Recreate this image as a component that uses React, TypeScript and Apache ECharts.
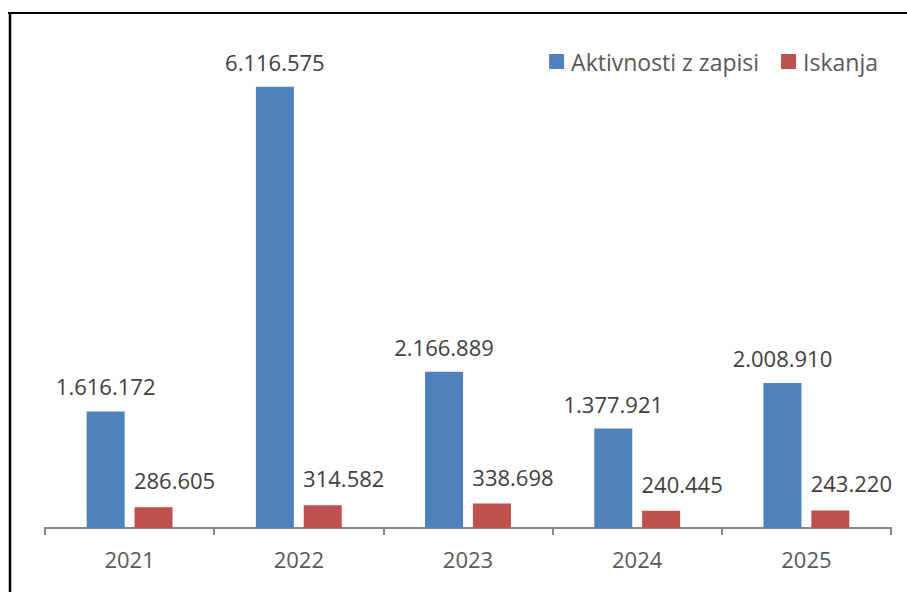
import React, { useEffect, useRef } from "react";
import * as echarts from "echarts";

const categories = ["2021", "2022", "2023", "2024", "2025"];
const aktivnosti = [1616172, 6116575, 2166889, 1377921, 2008910];
const iskanja = [286605, 314582, 338698, 240445, 243220];
const seriesNames = ["Aktivnosti z zapisi", "Iskanja"];

const fmt = (v: number) => String(v).replace(/\B(?=(\d{3})+(?!\d))/g, ".");
const FONT = "'Open Sans', 'Noto Sans', sans-serif";

export default function App() {
  const ref = useRef<HTMLDivElement>(null);
  useEffect(() => {
    const chart = echarts.init(ref.current!, null, { renderer: "svg" });
    chart.setOption({
      animation: false,
      backgroundColor: "#ffffff",
      textStyle: { fontFamily: FONT },
      legend: {
        right: 24,
        top: 45,
        itemWidth: 15,
        itemHeight: 15,
        itemGap: 22,
        icon: "rect",
        textStyle: { fontSize: 23, color: "#595959", fontFamily: FONT, padding: [0, 0, 0, 2] },
        data: seriesNames,
      },
      grid: { left: 45, right: 16, top: 23, bottom: 64 },
      xAxis: {
        type: "category",
        data: categories,
        axisLine: { lineStyle: { color: "#868686", width: 2 } },
        axisTick: { show: true, length: 7, lineStyle: { color: "#868686", width: 2 } },
        axisLabel: { fontSize: 22, color: "#595959", margin: 20, fontFamily: FONT },
      },
      yAxis: {
        type: "value",
        min: 0,
        max: 7000000,
        show: false,
        splitLine: { show: false },
      },
      series: [
        {
          name: seriesNames[0],
          type: "bar",
          data: aktivnosti,
          barWidth: 38,
          barGap: "26%",
          itemStyle: { color: "#4F81BD" },
          label: {
            show: true,
            position: "top",
            distance: 14,
            fontSize: 22,
            color: "#404040",
            fontFamily: FONT,
            formatter: (p: any) => fmt(p.value),
          },
        },
        {
          name: seriesNames[1],
          type: "bar",
          data: iskanja,
          barWidth: 38,
          itemStyle: { color: "#C0504D" },
          label: {
            show: true,
            position: "top",
            distance: 16,
            offset: [21, 0],
            fontSize: 22,
            color: "#404040",
            fontFamily: FONT,
            formatter: (p: any) => fmt(p.value),
          },
        },
      ],
      graphic: [
        { type: "line", shape: { x1: 8, y1: 13, x2: 907, y2: 13 }, style: { stroke: "#000", lineWidth: 2 } },
        { type: "line", shape: { x1: 10, y1: 13, x2: 10, y2: 592 }, style: { stroke: "#000", lineWidth: 2.5 } },
      ],
    });
    return () => chart.dispose();
  }, []);
  return (
    <div
      ref={ref}
      style={{ position: "fixed", left: 0, top: 0, width: 907, height: 592 }}
    />
  );
}
